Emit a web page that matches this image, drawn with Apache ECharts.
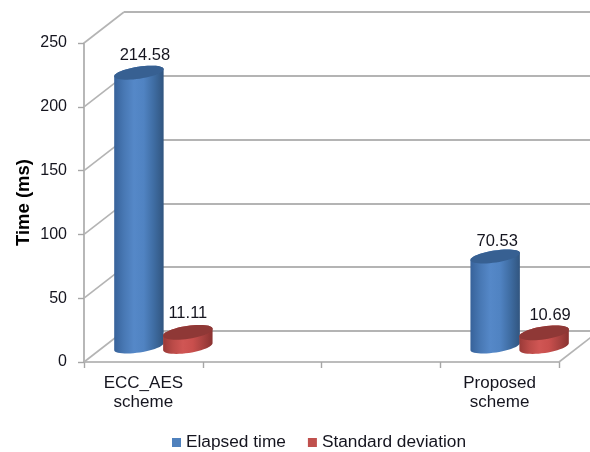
<!DOCTYPE html>
<html>
<head>
<meta charset="utf-8">
<style>html,body{margin:0;padding:0;background:#fff}#chart{width:590px;height:452px}</style>
<script src="https://cdn.jsdelivr.net/npm/echarts@6/dist/echarts.min.js"></script>
</head>
<body>
<div id="chart"></div>
<script>
// Chart values
const categories = ['ECC_AES\nscheme', '', '', 'Proposed\nscheme'];
const elapsedTime = [[0, 214.58], [3, 70.53]];
const standardDeviation = [[0, 11.11], [3, 10.69]];
const yTicks = [0, 50, 100, 150, 200, 250];

// Oblique projection of the chart box
const DEPTH_X = 40, DEPTH_Y = 31;
const FRONT = { left: 84, top: 43, width: 475, height: 319 };
const TEXT = '#15151f';
const GRID_LINE = '#b4b4b4';

const chart = echarts.init(document.getElementById('chart'));

function ellipsePoints(cx, cy, rx, ry, tilt, from, to, steps) {
  const pts = [], c = Math.cos(tilt), s = Math.sin(tilt);
  for (let i = 0; i <= steps; i++) {
    const t = from + (to - from) * i / steps;
    const ex = rx * Math.cos(t), ey = ry * Math.sin(t);
    pts.push([cx + ex * c + ey * s, cy - ex * s + ey * c]);
  }
  return pts;
}

function hGradient(stops) {
  return new echarts.graphic.LinearGradient(0, 0, 1, 0,
    stops.map((color, i) => ({ offset: i / (stops.length - 1), color })));
}

// Draws one tilted cylinder per datum, standing mid-way through the box depth
function cylinderSeries(name, data, side, palette, nudges) {
  return {
    name, type: 'custom', data, xAxisIndex: 0, yAxisIndex: 0, z: 5,
    itemStyle: { color: palette.swatch },
    encode: { x: 0, y: 1 },
    renderItem(params, api) {
      const cat = api.value(0), val = api.value(1);
      const band = api.size([1, 0])[0];
      const base = api.coord([cat, 0]), top = api.coord([cat, val]);
      const rx = 25, ry = palette.ry, tilt = 0.15;
      const cx = base[0] + DEPTH_X / 2 + side * band * 0.206;
      const by = base[1] - 15.5, ty = top[1] - 15.5;
      const lower = ellipsePoints(cx, by, rx, ry, tilt, 0, Math.PI, 24);
      const upperEnds = ellipsePoints(cx, ty, rx, ry, tilt, Math.PI, 2 * Math.PI, 24);
      const nudge = nudges[params.dataIndex];
      return {
        type: 'group',
        children: [
          { type: 'polygon', shape: { points: lower.concat(upperEnds) },
            style: { fill: hGradient(palette.body) } },
          { type: 'polygon', shape: { points: ellipsePoints(cx, ty, rx, ry, tilt, 0, 2 * Math.PI, 48) },
            style: { fill: palette.cap } },
          { type: 'text', style: {
              text: val.toFixed(2), x: cx + nudge[0], y: ty - 19 + nudge[1],
              fill: TEXT, font: '16.5px "Liberation Sans", Arial, sans-serif',
              align: 'center', verticalAlign: 'middle' } }
        ]
      };
    }
  };
}

// Receding edges joining the front axes to the back wall
const depthEdges = {
  type: 'custom', silent: true, xAxisIndex: 0, yAxisIndex: 0, z: 1,
  data: yTicks.map(v => ['left', v]).concat([['right', 0]]),
  dimensions: ['side', 'value'],
  encode: { y: 1 },
  renderItem(params, api) {
    const box = params.coordSys;
    const side = params.dataIndex === yTicks.length ? box.x + box.width : box.x;
    const y = api.coord([0, api.value(1)])[1];
    return { type: 'line',
      shape: { x1: side, y1: y, x2: side + DEPTH_X, y2: y - DEPTH_Y },
      style: { stroke: GRID_LINE, lineWidth: 1.6 } };
  }
};

chart.setOption({
  animation: false,
  backgroundColor: '#ffffff',
  textStyle: { fontFamily: '"Liberation Sans", Arial, sans-serif' },
  grid: [
    { left: FRONT.left, top: FRONT.top, width: FRONT.width, height: FRONT.height, outerBoundsMode: 'none' },
    { left: FRONT.left + DEPTH_X, top: FRONT.top - DEPTH_Y, width: FRONT.width, height: FRONT.height, outerBoundsMode: 'none' }
  ],
  legend: {
    left: 172, top: 434, itemWidth: 9, itemHeight: 9, itemGap: 22, icon: 'rect',
    padding: 0,
    data: ['Elapsed time', 'Standard deviation'],
    textStyle: { fontSize: 17.3, color: TEXT }
  },
  xAxis: [
    { type: 'category', gridIndex: 0, data: categories, boundaryGap: true,
      axisLine: { lineStyle: { color: '#a6a6a6', width: 1.6 } },
      axisTick: { show: true, alignWithLabel: false, length: 6, lineStyle: { color: '#a6a6a6', width: 1.4 } },
      axisLabel: { interval: 0, color: TEXT, fontSize: 17, lineHeight: 19, margin: 12 } },
    { type: 'category', gridIndex: 1, data: categories, show: false }
  ],
  yAxis: [
    { type: 'value', gridIndex: 0, min: 0, max: 250, interval: 50,
      name: 'Time (ms)', nameLocation: 'middle', nameGap: 51, nameRotate: 90, nameMoveOverlap: false,
      nameTextStyle: { fontSize: 18.5, fontWeight: 'bold', color: '#000' },
      axisLine: { show: true, lineStyle: { color: '#a6a6a6', width: 1.6 } },
      axisTick: { show: true, length: 6, lineStyle: { color: '#a6a6a6', width: 1.4 } },
      axisLabel: { color: TEXT, fontSize: 16, margin: 17 },
      splitLine: { show: false } },
    { type: 'value', gridIndex: 1, min: 0, max: 250, interval: 50,
      axisLine: { show: false }, axisTick: { show: false }, axisLabel: { show: false },
      splitLine: { show: true, lineStyle: { color: GRID_LINE, width: 2 } } }
  ],
  series: [
    depthEdges,
    cylinderSeries('Elapsed time', elapsedTime, -1, {
      swatch: '#4f81bd', cap: '#376092', ry: 6,
      body: ['#37629a', '#4878b4', '#5588c8', '#5083c2', '#3f6da3', '#31557f']
    }, [[6, 2], [2, 4]]),
    cylinderSeries('Standard deviation', standardDeviation, 1, {
      swatch: '#c0504d', cap: '#8f3836', ry: 6.5,
      body: ['#9a3a38', '#bb4b48', '#d05654', '#c94f4d', '#a94240', '#8a3230']
    }, [[0, 0], [6, 2]])
  ]
});
</script>
</body>
</html>
